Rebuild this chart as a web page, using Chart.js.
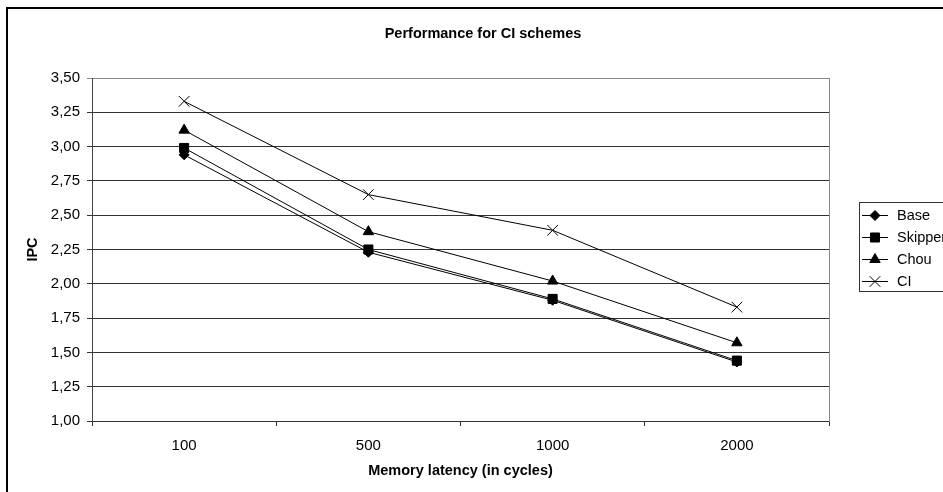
<!DOCTYPE html>
<html lang="en">
<head>
  <meta charset="UTF-8">
  <title>Performance for CI schemes</title>
  <script src="https://cdn.jsdelivr.net/npm/chart.js"></script>
  <style>
    html, body { margin: 0; padding: 0; background: #fff; overflow: hidden; }
    canvas { display: block; }
  </style>
</head>
<body>
  <canvas id="ipcChart" width="1000" height="520"></canvas>

  <script>
    // IPC per memory latency for each scheme
    const latencies = ['100', '500', '1000', '2000'];
    const base = [2.94, 2.23, 1.88, 1.43];
    const skipper = [2.99, 2.25, 1.89, 1.44];
    const chou = [3.12, 2.38, 2.02, 1.57];
    const ci = [3.33, 2.65, 2.39, 1.83];

    const FONT = 'Arial, "Liberation Sans", sans-serif';
    Chart.defaults.font.family = FONT;
    Chart.defaults.color = '#000';

    function series(label, data, style, radius) {
      return {
        label: label,
        data: data,
        borderColor: '#000',
        backgroundColor: style === 'crossRot' ? 'rgba(0,0,0,0)' : '#000',
        borderWidth: 1,
        pointStyle: style,
        pointRadius: radius,
        pointBorderWidth: 1,
        pointBackgroundColor: '#000',
        pointBorderColor: '#000',
        tension: 0,
        fill: false
      };
    }

    // outer chart frame
    const framePlugin = {
      id: 'frame',
      afterDraw(chart) {
        const ctx = chart.ctx;
        ctx.save();
        ctx.strokeStyle = '#000';
        ctx.lineWidth = 2;
        ctx.strokeRect(7, 8, 952, 500);
        ctx.restore();
      }
    };

    // boxed legend with line + marker samples
    const boxLegend = {
      id: 'boxLegend',
      afterDraw(chart) {
        const ctx = chart.ctx;
        const left = 859, top = 202, rowH = 22;
        ctx.save();
        ctx.strokeStyle = '#333';
        ctx.lineWidth = 1;
        ctx.strokeRect(left + 0.5, top + 0.5, 200, 89);
        ctx.font = '14.5px ' + FONT;
        ctx.textBaseline = 'middle';
        ctx.textAlign = 'left';
        chart.data.datasets.forEach((ds, i) => {
          const y = Math.round(top + 13 + i * rowH) + 0.5;
          ctx.strokeStyle = '#000';
          ctx.beginPath();
          ctx.moveTo(left + 3, y);
          ctx.lineTo(left + 29, y);
          ctx.stroke();
          ctx.fillStyle = ds.backgroundColor;
          Chart.helpers.drawPoint(ctx, {
            pointStyle: ds.pointStyle,
            radius: ds.pointRadius,
            rotation: 0,
            borderWidth: 1
          }, left + 16, y);
          ctx.fillStyle = '#000';
          ctx.fillText(ds.label, left + 38, y);
        });
        ctx.restore();
      }
    };

    const config = {
      type: 'line',
      data: {
        labels: latencies,
        datasets: [
          series('Base', base, 'rectRot', 5),
          series('Skipper', skipper, 'rect', 6.4),
          series('Chou', chou, 'triangle', 6),
          series('CI', ci, 'crossRot', 7.5)
        ]
      },
      options: {
        responsive: false,
        animation: false,
        devicePixelRatio: 1,
        layout: { padding: { left: 0, right: 34, top: 0, bottom: 0 } },
        plugins: {
          legend: { display: false },
          tooltip: { enabled: false },
          title: {
            display: true,
            text: 'Performance for CI schemes',
            color: '#000',
            font: { size: 14.5, weight: 'bold' },
            padding: { top: 25, bottom: 35.6 }
          }
        },
        scales: {
          x: {
            type: 'category',
            offset: true,
            grid: {
              offset: true,
              drawOnChartArea: false,
              tickLength: 5,
              color: '#333'
            },
            border: { color: '#333' },
            ticks: { font: { size: 15 }, padding: 11, color: '#000' },
            title: {
              display: true,
              text: 'Memory latency (in cycles)',
              font: { size: 14.5, weight: 'bold' },
              padding: { top: 0, bottom: 40 }
            },
            afterFit(scale) { scale.height = 99; }
          },
          y: {
            min: 1,
            max: 3.5,
            ticks: {
              stepSize: 0.25,
              font: { size: 15 },
              padding: 7,
              color: '#000',
              callback: v => v.toFixed(2).replace('.', ',')
            },
            grid: {
              tickLength: 5,
              color: ctx => (ctx.tick && ctx.tick.value === 3.5 ? '#888' : '#333')
            },
            border: { color: '#444' },
            title: {
              display: true,
              text: 'IPC',
              font: { size: 14.5, weight: 'bold' },
              padding: { top: 24, bottom: 0 }
            },
            afterFit(scale) { scale.width = 92; }
          },
          // right-hand strip that holds the legend and draws the plot edge
          side: {
            type: 'linear',
            position: 'right',
            ticks: { display: false },
            grid: { drawOnChartArea: false, drawTicks: false },
            border: { color: '#888' },
            afterFit(scale) { scale.width = 137; }
          }
        }
      },
      plugins: [framePlugin, boxLegend]
    };

    new Chart(document.getElementById('ipcChart'), config);
  </script>
</body>
</html>
